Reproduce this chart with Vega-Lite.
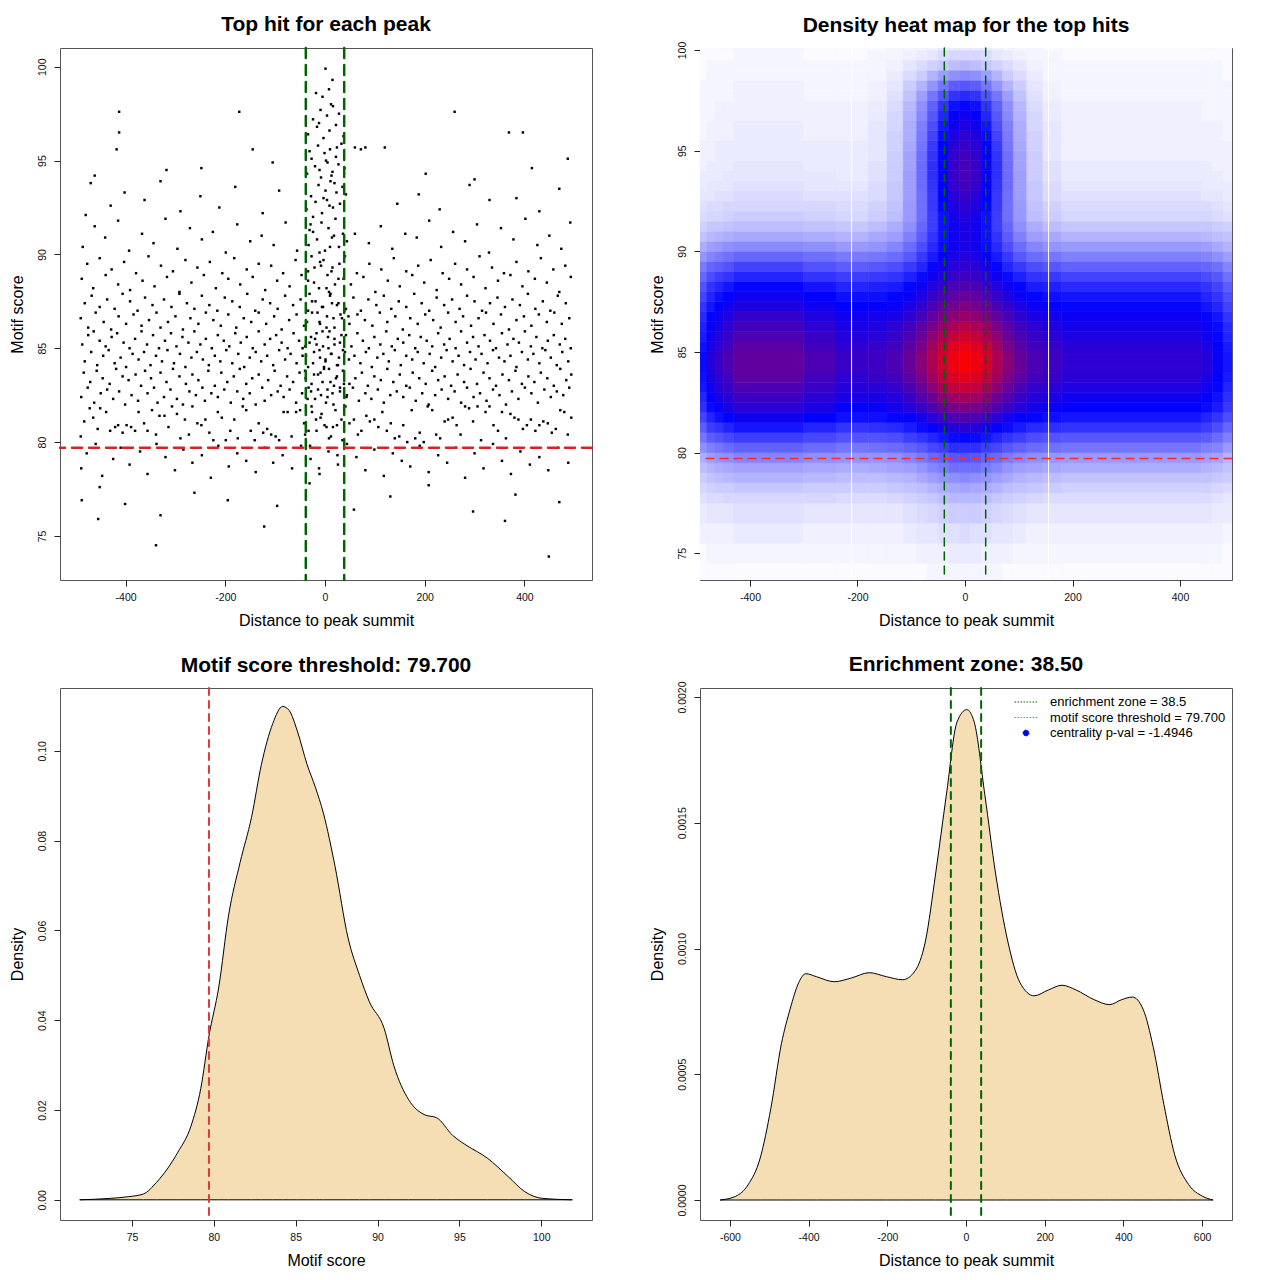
{
  "$schema": "https://vega.github.io/schema/vega-lite/v6.json",
  "background": "white",
  "padding": {"left": 8, "top": 13, "right": 0, "bottom": 0},
  "columns": 2,
  "spacing": 108,
  "bounds": "flush",
  "resolve": {"scale": {"x": "independent", "y": "independent", "color": "independent", "fill": "independent", "stroke": "independent", "shape": "independent"}},
  "config": {
    "font": "Liberation Sans",
    "locale": {"number": {"decimal": ".", "thousands": ",", "grouping": [3], "currency": ["$", ""], "minus": "-"}},
    "view": {"stroke": "#555", "strokeWidth": 1},
    "axis": {"domain": false, "grid": false, "tickColor": "#222", "tickSize": 6, "tickWidth": 1, "labelFontSize": 10.5, "labelColor": "#111", "titleFontSize": 16, "titleFontWeight": "normal", "titleColor": "#000", "labelFlush": false, "labelOverlap": false},
    "axisX": {"labelPadding": 6, "titlePadding": 10},
    "axisY": {"labelAngle": 270, "labelAlign": "center", "labelBaseline": "bottom", "labelPadding": 7, "titlePadding": 12},
    "title": {"fontSize": 21, "fontWeight": "bold", "color": "#000", "baseline": "alphabetic", "offset": 11.5, "frame": "group", "anchor": "middle"}
  },
  "concat": [
    {
      "width": 532,
      "height": 532,
      "title": {"text": "Top hit for each peak", "offset": 11.5},
      "layer": [
        {
          "data": {
            "values": "x,y\n-339,74.5\n449,73.9\n-122,75.5\n361,75.8\n-455,75.9\n-488,76.9\n-452,77.6\n-401,76.7\n-330,76.1\n-262,77.3\n-195,76.9\n-96,76.6\n-31,77.8\n58,76.4\n131,77.1\n208,77.7\n297,76.3\n382,77.2\n470,76.8\n-489,78.6\n-478,79.4\n-460,79.9\n-447,78.2\n-425,79.1\n-410,79.7\n-392,78.8\n-371,79.5\n-356,78.3\n-338,79.9\n-320,79.2\n-301,78.5\n-284,79.6\n-266,78.9\n-247,79.3\n-229,78.1\n-214,79.8\n-193,78.7\n-176,79.4\n-158,79.0\n-139,78.4\n-121,79.7\n-104,78.9\n-85,79.3\n-66,78.6\n-48,79.8\n-29,79.1\n-11,78.3\n7,79.5\n26,78.8\n44,79.9\n63,79.2\n81,78.5\n99,79.6\n118,78.2\n136,79.4\n154,79.0\n171,78.7\n190,79.8\n208,78.4\n227,79.3\n245,78.9\n263,79.7\n281,78.1\n300,79.4\n318,78.6\n337,79.9\n355,79.0\n373,78.3\n392,79.5\n411,78.8\n430,79.2\n448,78.5\n468,79.7\n488,78.9\n-490,80.3\n-483,81.1\n-472,81.8\n-465,81.3\n-456,80.7\n-451,81.8\n-439,81.6\n-431,80.6\n-421,80.8\n-415,80.9\n-406,80.5\n-398,80.9\n-389,80.8\n-381,80.6\n-374,81.6\n-363,81.0\n-356,80.6\n-347,81.7\n-339,80.4\n-332,81.4\n-322,81.4\n-314,80.8\n-307,81.9\n-297,81.5\n-290,80.2\n-281,81.2\n-273,80.4\n-266,81.9\n-256,81.0\n-248,80.9\n-240,81.2\n-232,80.5\n-224,80.1\n-215,81.6\n-207,81.3\n-199,80.1\n-190,80.6\n-182,81.2\n-175,80.2\n-165,81.9\n-158,81.7\n-149,80.6\n-141,80.1\n-133,81.0\n-124,80.5\n-116,80.7\n-108,80.4\n-99,80.3\n-92,80.1\n-83,81.6\n-75,81.6\n-67,80.3\n-58,81.6\n-50,81.7\n-42,81.0\n-33,80.6\n-26,81.6\n-17,80.6\n-9,81.3\n-1,80.9\n8,80.2\n16,80.8\n24,80.9\n33,81.2\n41,81.9\n49,81.0\n58,81.2\n66,80.4\n73,80.6\n83,81.4\n90,81.1\n99,81.2\n107,80.8\n115,81.6\n124,80.6\n132,81.0\n140,80.2\n149,80.3\n157,80.9\n165,80.0\n174,81.7\n181,80.2\n190,80.5\n198,80.0\n206,81.9\n215,81.7\n223,80.4\n231,80.2\n240,81.1\n247,81.2\n256,81.3\n264,80.9\n272,80.4\n281,81.9\n289,81.8\n297,81.1\n306,81.9\n313,80.1\n322,81.6\n330,81.9\n338,80.9\n347,80.6\n355,81.6\n363,80.2\n372,81.5\n380,81.3\n388,81.2\n397,80.7\n405,80.9\n413,81.2\n422,80.6\n430,80.9\n438,81.1\n447,81.0\n455,80.5\n463,80.7\n472,81.7\n480,81.6\n487,80.4\n494,81.3\n-489,82.4\n-484,83.7\n-476,82.9\n-471,83.2\n-463,82.1\n-458,83.8\n-450,82.6\n-446,83.4\n-437,82.8\n-432,83.1\n-425,82.3\n-419,83.9\n-413,82.7\n-406,83.5\n-401,82.0\n-394,83.3\n-388,82.5\n-380,83.6\n-375,82.2\n-369,83.0\n-361,83.8\n-356,82.6\n-349,83.4\n-343,82.9\n-336,82.1\n-330,83.7\n-323,82.4\n-318,83.2\n-310,82.8\n-305,83.9\n-297,82.3\n-292,83.5\n-285,82.0\n-279,83.1\n-272,82.7\n-266,83.6\n-259,82.5\n-254,83.3\n-246,82.9\n-241,82.2\n-234,83.8\n-228,82.6\n-221,83.0\n-215,82.4\n-208,83.7\n-202,82.8\n-196,83.2\n-189,82.1\n-183,83.5\n-176,82.7\n-171,83.9\n-164,82.3\n-158,83.1\n-151,82.6\n-146,83.4\n-139,82.0\n-133,83.6\n-126,82.9\n-121,82.2\n-114,83.3\n-108,82.5\n-101,83.8\n-95,82.7\n-89,83.0\n-83,82.4\n-76,83.5\n-71,82.8\n-64,83.2\n-58,82.1\n-51,83.7\n-46,82.6\n-39,83.4\n-33,82.9\n-27,83.1\n-20,82.3\n-14,83.6\n-8,82.5\n-2,83.9\n5,82.8\n11,83.2\n17,82.0\n24,83.5\n30,82.7\n36,83.8\n43,82.4\n49,83.1\n56,82.9\n61,83.4\n68,82.2\n74,83.7\n81,82.6\n86,83.0\n93,82.3\n99,83.5\n106,82.8\n112,83.3\n118,82.1\n125,83.9\n131,82.5\n137,83.2\n144,82.7\n150,83.6\n157,82.4\n163,83.0\n170,82.9\n176,83.7\n182,82.2\n189,83.4\n195,82.6\n202,83.1\n208,82.0\n215,83.8\n221,82.5\n227,83.3\n234,82.8\n240,83.5\n247,82.3\n253,83.0\n260,82.7\n266,83.6\n273,82.1\n279,83.2\n285,82.9\n292,83.9\n298,82.4\n305,83.1\n311,82.6\n318,83.7\n324,82.2\n330,83.4\n337,82.8\n343,83.0\n350,82.5\n356,83.6\n363,82.0\n369,83.3\n375,82.7\n382,83.8\n388,82.3\n395,83.1\n401,82.9\n408,83.5\n414,82.6\n420,83.2\n427,82.1\n433,83.7\n440,82.8\n446,83.4\n453,82.4\n459,83.0\n465,82.7\n472,83.9\n478,82.5\n484,83.3\n490,82.9\n494,83.6\n-487,85.2\n-482,84.3\n-475,85.7\n-469,84.8\n-464,85.9\n-457,84.1\n-452,85.4\n-445,84.6\n-440,85.1\n-434,84.9\n-428,85.6\n-422,84.2\n-417,85.8\n-410,84.5\n-404,85.3\n-399,84.0\n-392,85.0\n-386,84.7\n-381,85.5\n-374,84.4\n-368,85.9\n-363,84.8\n-357,85.2\n-350,84.1\n-345,85.7\n-339,84.6\n-333,85.0\n-327,84.3\n-321,85.4\n-316,84.9\n-309,85.8\n-303,84.2\n-298,85.1\n-291,84.7\n-286,85.6\n-280,84.0\n-274,85.3\n-268,84.5\n-262,85.9\n-257,84.8\n-250,85.2\n-245,84.4\n-239,85.5\n-233,84.1\n-227,85.0\n-221,84.6\n-215,85.7\n-210,84.3\n-203,85.4\n-198,84.9\n-192,85.1\n-186,84.2\n-180,85.8\n-174,84.7\n-169,85.3\n-162,84.0\n-157,85.6\n-151,84.5\n-145,85.0\n-139,84.8\n-133,85.9\n-128,84.3\n-121,85.2\n-116,84.6\n-110,85.5\n-104,84.1\n-98,85.7\n-92,84.9\n-87,85.3\n-80,84.4\n-75,85.0\n-69,84.7\n-63,85.8\n-57,84.2\n-52,85.4\n-45,84.6\n-40,85.1\n-34,84.0\n-28,85.6\n-22,84.8\n-17,85.2\n-10,84.5\n-5,85.9\n1,84.3\n7,85.0\n13,84.7\n19,85.5\n24,84.1\n30,85.3\n36,84.9\n42,85.7\n48,84.4\n53,85.1\n59,84.6\n65,85.8\n71,84.2\n76,85.4\n82,84.8\n88,85.0\n94,84.0\n99,85.6\n105,84.5\n111,85.2\n117,84.7\n123,85.9\n128,84.3\n134,85.1\n140,84.9\n146,85.5\n152,84.1\n157,85.3\n163,84.6\n169,85.7\n175,84.4\n181,85.0\n186,84.8\n192,85.6\n198,84.2\n204,85.4\n210,84.7\n215,85.1\n221,84.0\n227,85.8\n233,84.5\n239,85.2\n244,84.9\n250,85.5\n256,84.3\n262,85.0\n268,84.6\n273,85.9\n279,84.1\n285,85.3\n291,84.8\n297,85.6\n302,84.4\n308,85.1\n314,84.7\n320,85.7\n326,84.2\n331,85.4\n337,84.9\n343,85.0\n349,84.5\n355,85.8\n360,84.3\n366,85.2\n372,84.6\n378,85.5\n384,84.0\n389,85.3\n395,84.8\n401,85.9\n407,84.4\n413,85.1\n418,84.7\n424,85.6\n430,84.2\n436,85.0\n442,84.9\n447,85.4\n453,84.5\n459,85.7\n465,84.1\n471,85.2\n476,84.8\n482,85.5\n488,84.3\n493,85.0\n-490,86.6\n-482,87.4\n-475,86.1\n-468,87.8\n-460,86.9\n-452,87.2\n-444,86.4\n-437,87.6\n-429,86.0\n-422,87.1\n-414,86.7\n-406,87.9\n-399,86.3\n-391,87.5\n-384,86.8\n-376,87.0\n-368,86.2\n-361,87.7\n-353,86.5\n-346,87.3\n-338,86.9\n-330,86.1\n-323,87.6\n-315,86.4\n-308,87.2\n-300,86.7\n-292,87.9\n-285,86.0\n-277,87.4\n-270,86.6\n-262,87.1\n-254,86.3\n-247,87.8\n-239,86.9\n-232,87.3\n-224,86.5\n-216,87.0\n-209,86.2\n-201,87.7\n-194,86.8\n-186,87.5\n-178,86.1\n-171,87.2\n-163,86.6\n-156,87.9\n-148,86.4\n-140,87.0\n-133,86.9\n-125,87.6\n-118,86.3\n-110,87.4\n-102,86.7\n-95,87.1\n-87,86.0\n-80,87.8\n-72,86.5\n-64,87.3\n-57,86.8\n-49,87.6\n-42,86.2\n-34,87.0\n-26,86.9\n-19,87.5\n-11,86.4\n-4,87.2\n4,86.7\n11,87.9\n19,86.1\n27,87.4\n34,86.6\n42,87.1\n49,86.3\n57,87.7\n65,86.8\n72,87.0\n80,86.5\n87,87.6\n95,86.2\n103,87.3\n110,86.9\n118,87.8\n125,86.4\n133,87.1\n141,86.7\n148,87.5\n156,86.0\n163,87.2\n171,86.6\n179,87.9\n186,86.3\n194,87.4\n201,86.8\n209,87.0\n217,86.5\n224,87.7\n232,86.1\n239,87.3\n247,86.9\n255,87.6\n262,86.4\n270,87.1\n277,86.7\n285,87.8\n293,86.2\n300,87.5\n308,86.6\n315,87.0\n323,86.9\n331,87.4\n338,86.3\n346,87.7\n353,86.8\n361,87.2\n369,86.0\n376,87.6\n384,86.5\n391,87.3\n399,86.7\n407,87.9\n414,86.2\n422,87.1\n429,86.8\n437,87.5\n445,86.4\n452,87.0\n460,86.9\n467,87.8\n475,86.3\n483,87.4\n490,86.6\n-488,88.7\n-477,89.5\n-465,88.2\n-452,89.8\n-440,88.9\n-428,89.2\n-415,88.4\n-403,89.6\n-391,88.1\n-379,89.0\n-366,88.6\n-354,89.9\n-342,88.3\n-329,89.4\n-317,88.8\n-305,89.1\n-292,88.0\n-280,89.7\n-268,88.5\n-256,89.3\n-243,88.9\n-231,89.6\n-219,88.2\n-206,89.0\n-194,88.7\n-182,89.8\n-170,88.4\n-157,89.2\n-145,88.8\n-133,89.5\n-120,88.1\n-108,89.4\n-96,88.6\n-84,89.0\n-71,88.3\n-59,89.7\n-47,88.9\n-34,89.1\n-22,88.5\n-10,89.6\n3,88.2\n15,89.3\n27,88.7\n40,89.9\n52,88.4\n64,89.0\n77,88.8\n89,89.5\n101,88.0\n113,89.2\n126,88.6\n138,89.8\n150,88.3\n163,89.1\n175,88.9\n187,89.4\n199,88.5\n212,89.7\n224,88.1\n236,89.0\n249,88.7\n261,89.5\n273,88.4\n285,89.2\n298,88.8\n310,89.9\n322,88.2\n335,89.3\n347,88.6\n359,89.0\n372,88.9\n384,89.6\n396,88.3\n408,89.1\n421,88.7\n433,89.8\n445,88.5\n458,89.2\n470,88.0\n482,89.4\n493,88.8\n-486,90.4\n-462,91.5\n-441,90.9\n-415,91.8\n-393,90.2\n-367,91.1\n-344,90.6\n-320,91.9\n-296,90.3\n-271,91.4\n-247,90.8\n-225,91.2\n-199,90.1\n-176,91.6\n-150,90.7\n-127,91.0\n-103,90.5\n-79,91.7\n-56,90.2\n-31,91.3\n88,90.6\n112,91.5\n135,90.3\n161,91.1\n184,90.9\n209,91.8\n233,90.4\n257,91.2\n281,90.7\n305,91.6\n329,90.1\n353,91.4\n378,90.8\n402,91.9\n426,90.5\n450,91.0\n474,90.3\n492,91.7\n10,90.4\n60,91.1\n-480,92.1\n-470,93.8\n-430,92.6\n-402,93.3\n-362,92.9\n-330,93.9\n-290,92.3\n-250,93.1\n-212,92.5\n-180,93.6\n-125,92.2\n-92,93.4\n145,92.7\n188,93.2\n230,92.4\n290,93.7\n330,92.9\n384,93.0\n430,92.3\n470,93.5\n-462,94.2\n-418,95.6\n-318,94.5\n-248,94.6\n-145,95.6\n-105,94.9\n120,95.7\n202,94.3\n300,94.0\n415,94.6\n487,95.1\n-413,97.6\n-413,96.5\n-172,97.6\n260,97.6\n369,96.5\n397,96.5\n60,95.7\n72,95.6\n81,95.7\n-12,78.6\n25,79.3\n-30,79.8\n-40,80.4\n-18,81.2\n3,80.8\n21,81.7\n35,80.1\n-7,81.5\n12,80.3\n-27,81.9\n-35,82.3\n-22,83.6\n-14,82.8\n-5,83.2\n2,82.1\n8,83.9\n15,82.6\n22,83.4\n30,82.9\n38,83.1\n-28,82.7\n-9,83.7\n5,82.4\n18,83.0\n-40,83.8\n44,82.5\n-38,84.6\n-31,85.3\n-24,84.2\n-17,85.8\n-11,84.9\n-4,85.1\n1,84.4\n6,85.6\n12,84.7\n19,85.2\n26,84.1\n33,85.7\n40,84.8\n-20,85.5\n-2,84.0\n9,85.9\n28,84.5\n-45,85.0\n-36,86.4\n-26,87.5\n-15,86.9\n-6,87.2\n3,86.1\n10,87.8\n17,86.6\n24,87.3\n31,86.8\n39,87.0\n-31,87.9\n-10,86.3\n14,87.4\n47,86.7\n-34,88.6\n-21,89.3\n-12,88.2\n-3,89.7\n5,88.9\n13,89.1\n20,88.4\n29,89.5\n37,88.7\n-27,89.9\n8,88.0\n-8,89.4\n-33,90.5\n-24,91.2\n-16,90.8\n-7,91.7\n0,90.2\n7,91.4\n14,90.9\n21,91.9\n28,90.4\n36,91.1\n-29,91.6\n-11,90.1\n18,91.0\n44,90.7\n-37,92.4\n-28,93.1\n-19,92.8\n-13,93.7\n-6,92.2\n1,93.4\n4,92.9\n11,93.9\n16,92.5\n23,93.3\n30,92.7\n35,93.6\n-24,92.0\n-3,93.0\n9,92.6\n19,93.8\n42,93.2\n-36,94.3\n-27,95.1\n-20,94.7\n-14,95.8\n-8,94.1\n-1,95.4\n5,94.9\n10,95.6\n15,94.4\n22,95.2\n27,94.8\n33,95.9\n39,94.6\n-31,95.5\n-11,94.5\n2,95.0\n13,94.2\n24,95.7\n-34,96.4\n-24,97.2\n-16,96.8\n-9,97.7\n-3,96.2\n4,97.4\n9,96.6\n16,97.9\n22,96.9\n28,97.5\n37,96.3\n-12,97.0\n12,98.0\n-5,98.4\n8,98.8\n-18,98.6\n15,99.3\n1,99.9",
            "format": {"type": "csv", "parse": {"x": "number", "y": "number"}}
          },
          "mark": {"type": "square", "size": 6, "color": "#000", "opacity": 1, "clip": true},
          "encoding": {
            "x": {"field": "x", "type": "quantitative", "title": "Distance to peak summit", "scale": {"domain": [-531.6, 535.6], "nice": false, "zero": false}, "axis": {"values": [-400, -200, 0, 200, 400]}},
            "y": {"field": "y", "type": "quantitative", "title": "Motif score", "scale": {"domain": [72.65, 101.0], "nice": false, "zero": false}, "axis": {"values": [75, 80, 85, 90, 95, 100]}}
          }
        },
        {
          "data": {"values": [{"x": -38.5}, {"x": 38.5}]},
          "mark": {"type": "rule", "color": "#006400", "strokeWidth": 2.5, "strokeDash": [10, 7], "strokeCap": "round"},
          "encoding": {"x": {"field": "x", "type": "quantitative", "title": "Distance to peak summit"}}
        },
        {
          "data": {"values": [{"y": 79.7}]},
          "mark": {"type": "rule", "color": "#d62424", "strokeWidth": 2.5, "strokeDash": [10, 7], "strokeCap": "round"},
          "encoding": {"y": {"field": "y", "type": "quantitative", "title": "Motif score"}}
        }
      ]
    },
    {
      "width": 532,
      "height": 532,
      "title": {"text": "Density heat map for the top hits", "offset": 5.5},
      "layer": [
        {
          "data": {
            "values": "y1,y2,a,b,c,d,e,f,g,h,i,j,k,l,m,n,o,p,q,r,s,t,u,v,w,x,y,z\n73.5,74.5,1,1,1,1,1,1,1,1,1,1,1,2,2,2,2,2,2,2,1,1,1,1,1,1,1,1\n74.5,75.5,1,2,2,2,2,2,2,2,2,2,3,3,3,4,4,4,3,3,3,2,2,2,2,2,2,1\n75.5,76.5,3,3,3,3,4,3,3,3,3,4,5,5,6,6,7,6,6,5,5,4,3,3,3,3,3,2\n76.5,77.5,4,5,5,5,6,5,5,5,5,6,7,8,9,10,10,10,9,8,7,6,5,5,5,5,4,4\n77.5,78,6,7,7,8,8,8,7,7,8,9,10,11,13,14,14,14,13,11,10,9,8,7,7,7,6,5\n78,78.5,8,9,10,10,11,10,10,10,11,12,13,15,16,17,18,17,16,15,13,12,11,10,9,9,8,7\n78.5,79,10,12,13,14,15,14,13,13,14,15,17,19,21,22,23,22,21,19,17,15,14,13,12,12,11,10\n79,79.5,13,15,16,17,18,17,16,17,18,19,21,24,26,28,28,28,26,24,21,19,18,17,16,15,14,12\n79.5,80,16,19,21,22,24,22,21,21,22,24,26,29,31,33,34,33,31,29,26,24,22,21,20,19,18,15\n80,80.5,22,25,27,29,31,29,27,28,29,31,33,36,38,41,41,41,38,36,33,31,29,28,27,25,24,20\n80.5,81,27,32,34,36,38,36,34,34,35,38,40,43,46,48,49,48,46,43,40,38,35,34,33,32,29,25\n81,81.5,32,38,40,43,46,43,40,41,42,45,48,51,54,57,58,57,54,51,48,45,42,41,40,38,35,30\n81.5,82,37,43,47,50,53,50,47,47,49,51,54,58,62,65,66,65,62,58,54,51,49,47,46,43,40,35\n82,82.5,41,48,51,55,58,55,51,52,54,57,61,65,70,73,74,73,70,65,61,57,54,52,50,48,45,39\n82.5,83,43,51,55,58,62,58,55,55,57,61,66,71,77,81,82,81,77,71,66,61,57,55,53,51,47,41\n83,83.5,46,53,57,61,65,61,57,58,60,65,70,77,83,88,89,88,83,77,70,65,60,58,56,53,49,43\n83.5,84,47,55,59,63,68,63,59,61,63,68,74,81,88,93,95,93,88,81,74,68,63,61,58,55,51,45\n84,84.5,48,57,61,65,69,65,61,62,65,70,77,84,91,97,99,97,91,84,77,70,65,62,59,57,52,46\n84.5,85,48,57,61,65,69,65,61,62,65,70,77,84,91,97,99,97,91,84,77,70,65,62,59,57,52,46\n85,85.5,47,55,59,63,68,63,59,61,63,68,74,82,89,94,96,94,89,82,74,68,63,61,58,55,51,45\n85.5,86,45,53,57,61,65,61,57,58,61,65,71,78,84,89,91,89,84,78,71,65,61,58,56,53,49,43\n86,86.5,44,52,55,59,63,59,55,56,59,63,68,74,80,84,86,84,80,74,68,63,59,56,54,52,48,42\n86.5,87,42,49,53,56,60,56,53,54,55,59,64,69,74,78,80,78,74,69,64,59,55,54,52,49,46,40\n87,87.5,40,46,50,53,56,53,50,51,52,56,60,65,70,73,75,73,70,65,60,56,52,51,49,46,43,37\n87.5,88,37,43,47,50,53,50,47,47,49,52,56,61,65,69,70,69,65,61,56,52,49,47,46,43,40,35\n88,88.5,34,40,43,46,49,46,43,44,45,49,53,57,61,65,66,65,61,57,53,49,45,44,42,40,37,32\n88.5,89,30,35,38,40,43,40,38,39,40,44,48,53,57,61,62,61,57,53,48,44,40,39,37,35,33,28\n89,89.5,26,30,32,34,37,34,32,33,35,39,43,49,54,58,59,58,54,49,43,39,35,33,31,30,28,24\n89.5,90,21,24,26,28,30,28,26,27,29,33,39,45,51,55,57,55,51,45,39,33,29,27,25,24,22,19\n90,90.5,16,19,20,22,23,22,20,21,24,29,35,42,48,53,55,53,48,42,35,29,24,21,20,19,17,15\n90.5,91,12,14,15,16,17,16,15,17,19,25,32,40,47,53,55,53,47,40,32,25,19,17,15,14,13,12\n91,91.5,9,11,11,12,13,12,11,13,16,22,30,38,47,53,55,53,47,38,30,22,16,13,11,11,10,9\n91.5,92,7,8,8,9,10,9,8,10,13,20,28,38,47,54,57,54,47,38,28,20,13,10,8,8,7,6\n92,92.5,6,7,7,8,8,8,7,9,12,20,28,39,49,56,59,56,49,39,28,20,12,9,7,7,6,5\n92.5,93,5,5,6,6,7,6,6,7,11,19,28,39,50,58,61,58,50,39,28,19,11,7,6,5,5,4\n93,93.5,4,5,5,5,6,5,5,7,11,19,29,40,51,60,63,60,51,40,29,19,11,7,5,4,4,4\n93.5,94,4,4,4,5,5,5,4,6,10,19,29,41,52,61,64,61,52,41,29,19,10,6,4,4,4,3\n94,94.5,3,4,4,4,5,4,4,6,10,18,29,41,52,61,64,61,52,41,29,18,10,6,4,4,3,3\n94.5,95,3,3,4,4,4,4,4,5,10,18,28,40,51,60,63,60,51,40,28,18,10,5,3,3,3,3\n95,95.5,3,3,4,4,4,4,4,5,9,17,27,39,50,58,61,58,50,39,27,17,9,5,3,3,3,3\n95.5,96,2,3,3,3,4,3,3,5,9,16,26,37,48,56,59,56,48,37,26,16,9,5,3,3,3,2\n96,96.5,2,3,3,3,4,3,3,5,8,16,25,35,46,53,56,53,46,35,25,16,8,5,3,3,3,2\n96.5,97,2,2,3,3,3,3,3,4,8,15,23,33,43,51,53,51,43,33,23,15,8,4,3,2,2,2\n97,97.5,2,2,3,3,3,3,3,4,7,14,22,31,40,47,49,47,40,31,22,14,7,4,3,2,2,2\n97.5,98,2,2,2,2,3,2,2,3,6,12,19,27,34,40,42,40,34,27,19,12,6,3,2,2,2,2\n98,98.5,2,2,2,2,3,2,2,3,5,10,15,21,27,32,33,32,27,21,15,10,5,3,2,2,2,2\n98.5,99,1,2,2,2,2,2,2,2,4,7,10,15,19,22,23,22,19,15,10,7,4,2,2,2,2,1\n99,99.5,1,2,2,2,2,2,2,2,3,5,7,9,11,13,14,13,11,9,7,5,3,2,2,2,2,1\n99.5,100,1,1,1,1,2,1,1,2,2,3,4,5,7,8,8,8,7,5,4,3,2,2,1,1,1,1\n100,100.5,1,1,1,1,2,1,1,1,2,2,2,3,4,4,4,4,4,3,2,2,2,1,1,1,1,1",
            "format": {"type": "csv", "parse": {"y1": "number", "y2": "number", "a": "number", "b": "number", "c": "number", "d": "number", "e": "number", "f": "number", "g": "number", "h": "number", "i": "number", "j": "number", "k": "number", "l": "number", "m": "number", "n": "number", "o": "number", "p": "number", "q": "number", "r": "number", "s": "number", "t": "number", "u": "number", "v": "number", "w": "number", "x": "number", "y": "number", "z": "number"}}
          },
          "transform": [
            {"fold": ["a", "b", "c", "d", "e", "f", "g", "h", "i", "j", "k", "l", "m", "n", "o", "p", "q", "r", "s", "t", "u", "v", "w", "x", "y", "z"], "as": ["col", "val"]},
            {"lookup": "col", "from": {"data": {"values": [
              {"col": "a", "x1": -500, "x2": -480}, {"col": "b", "x1": -480, "x2": -465}, {"col": "c", "x1": -465, "x2": -450},
              {"col": "d", "x1": -450, "x2": -430}, {"col": "e", "x1": -430, "x2": -300}, {"col": "f", "x1": -300, "x2": -240},
              {"col": "g", "x1": -240, "x2": -180}, {"col": "h", "x1": -180, "x2": -145}, {"col": "i", "x1": -145, "x2": -115},
              {"col": "j", "x1": -115, "x2": -90}, {"col": "k", "x1": -90, "x2": -70}, {"col": "l", "x1": -70, "x2": -50},
              {"col": "m", "x1": -50, "x2": -30}, {"col": "n", "x1": -30, "x2": -10}, {"col": "o", "x1": -10, "x2": 10},
              {"col": "p", "x1": 10, "x2": 30}, {"col": "q", "x1": 30, "x2": 50}, {"col": "r", "x1": 50, "x2": 70},
              {"col": "s", "x1": 70, "x2": 90}, {"col": "t", "x1": 90, "x2": 115}, {"col": "u", "x1": 115, "x2": 145},
              {"col": "v", "x1": 145, "x2": 180}, {"col": "w", "x1": 180, "x2": 440}, {"col": "x", "x1": 440, "x2": 460},
              {"col": "y", "x1": 460, "x2": 480}, {"col": "z", "x1": 480, "x2": 500}
            ]}, "key": "col", "fields": ["x1", "x2"]}}
          ],
          "mark": {"type": "rect", "clip": true, "strokeWidth": 0.6},
          "encoding": {
            "x": {"field": "x1", "type": "quantitative", "title": "Distance to peak summit", "scale": {"domain": [-493, 496.7], "nice": false, "zero": false}, "axis": {"values": [-400, -200, 0, 200, 400]}},
            "x2": {"field": "x2"},
            "y": {"field": "y1", "type": "quantitative", "title": "Motif score", "scale": {"domain": [73.67, 100.1], "nice": false, "zero": false}, "axis": {"values": [75, 80, 85, 90, 95, 100]}},
            "y2": {"field": "y2"},
            "color": {"field": "val", "type": "quantitative", "scale": {"domain": [0, 50, 100], "range": ["#ffffff", "#0000ff", "#ff0000"], "interpolate": "rgb"}, "legend": null},
            "stroke": {"field": "val", "type": "quantitative", "scale": {"domain": [0, 50, 100], "range": ["#ffffff", "#0000ff", "#ff0000"], "interpolate": "rgb"}, "legend": null}
          }
        },
        {
          "data": {"values": [{"x1": -211}, {"x1": 155.5}]},
          "mark": {"type": "rule", "color": "#ffffff", "strokeWidth": 1},
          "encoding": {"x": {"field": "x1", "type": "quantitative", "title": "Distance to peak summit"}}
        },
        {
          "data": {"values": [{"x1": -38.5}, {"x1": 38.5}]},
          "mark": {"type": "rule", "color": "#006400", "strokeWidth": 1.5, "strokeDash": [8, 6], "strokeCap": "round"},
          "encoding": {"x": {"field": "x1", "type": "quantitative", "title": "Distance to peak summit"}}
        },
        {
          "data": {"values": [{"y1": 79.7}]},
          "mark": {"type": "rule", "color": "#ff2a2a", "strokeWidth": 1.5, "strokeDash": [8, 6], "strokeCap": "round"},
          "encoding": {"y": {"field": "y1", "type": "quantitative", "title": "Motif score"}}
        }
      ]
    },
    {
      "width": 532,
      "height": 532,
      "title": {"text": "Motif score threshold: 79.700", "offset": 11.5},
      "layer": [
        {
          "data": {"values": [
            {"x": 71.8, "d": 0}, {"x": 73.6, "d": 0.0003}, {"x": 74.8, "d": 0.0007}, {"x": 75.7, "d": 0.0013},
            {"x": 76.5, "d": 0.0039}, {"x": 77.8, "d": 0.0106}, {"x": 78.6, "d": 0.0164}, {"x": 79.2, "d": 0.0248},
            {"x": 79.7, "d": 0.0365}, {"x": 80.3, "d": 0.0474}, {"x": 80.9, "d": 0.0634}, {"x": 81.6, "d": 0.0751},
            {"x": 82.3, "d": 0.0852}, {"x": 82.9, "d": 0.0969}, {"x": 83.6, "d": 0.1061}, {"x": 84.2, "d": 0.1099},
            {"x": 84.6, "d": 0.109}, {"x": 85.1, "d": 0.1044}, {"x": 85.7, "d": 0.0969}, {"x": 86.2, "d": 0.0919},
            {"x": 86.7, "d": 0.086}, {"x": 87.4, "d": 0.0743}, {"x": 88.2, "d": 0.0583}, {"x": 88.9, "d": 0.05},
            {"x": 89.5, "d": 0.0441}, {"x": 90.4, "d": 0.0382}, {"x": 91.0, "d": 0.0298}, {"x": 91.9, "d": 0.0223},
            {"x": 92.9, "d": 0.0189}, {"x": 93.6, "d": 0.0183}, {"x": 94.6, "d": 0.0143}, {"x": 95.4, "d": 0.0122},
            {"x": 96.7, "d": 0.0093}, {"x": 98.0, "d": 0.0051}, {"x": 99.0, "d": 0.0018}, {"x": 100.1, "d": 0.0003},
            {"x": 101.9, "d": 0}
          ]},
          "mark": {"type": "area", "fill": "#F5DEB3", "stroke": "#000", "strokeWidth": 1, "interpolate": "monotone"},
          "encoding": {
            "x": {"field": "x", "type": "quantitative", "title": "Motif score", "scale": {"domain": [70.6, 103.1], "nice": false, "zero": false}, "axis": {"values": [75, 80, 85, 90, 95, 100]}},
            "y": {"field": "d", "type": "quantitative", "title": "Density", "scale": {"domain": [-0.0045, 0.114], "nice": false, "zero": false}, "axis": {"values": [0, 0.02, 0.04, 0.06, 0.08, 0.1], "format": ".2f"}},
            "y2": {"datum": 0}
          }
        },
        {
          "data": {"values": [{"x": 79.7}]},
          "mark": {"type": "rule", "color": "#d93a3a", "strokeWidth": 2, "strokeDash": [7, 6], "strokeCap": "round"},
          "encoding": {"x": {"field": "x", "type": "quantitative", "title": "Motif score"}}
        }
      ]
    },
    {
      "width": 532,
      "height": 532,
      "title": {"text": "Enrichment zone: 38.50", "offset": 5.5},
      "layer": [
        {
          "data": {"values": [
            {"x": -625, "d": 0}, {"x": -585, "d": 0.000015}, {"x": -554, "d": 0.00006}, {"x": -523, "d": 0.000167},
            {"x": -496, "d": 0.000364}, {"x": -469, "d": 0.000622}, {"x": -447, "d": 0.000759}, {"x": -425, "d": 0.000865},
            {"x": -407, "d": 0.0009}, {"x": -380, "d": 0.000888}, {"x": -335, "d": 0.000868}, {"x": -291, "d": 0.000883},
            {"x": -246, "d": 0.000904}, {"x": -202, "d": 0.000888}, {"x": -161, "d": 0.000876}, {"x": -130, "d": 0.00091},
            {"x": -103, "d": 0.00103}, {"x": -77, "d": 0.0013}, {"x": -50, "d": 0.00161}, {"x": -23, "d": 0.0019},
            {"x": 2, "d": 0.00195}, {"x": 21, "d": 0.0019}, {"x": 48, "d": 0.00161}, {"x": 75, "d": 0.0013},
            {"x": 106, "d": 0.00103}, {"x": 137, "d": 0.000865}, {"x": 173, "d": 0.000812}, {"x": 209, "d": 0.000835},
            {"x": 244, "d": 0.000854}, {"x": 280, "d": 0.000835}, {"x": 325, "d": 0.000797}, {"x": 365, "d": 0.000777},
            {"x": 396, "d": 0.000797}, {"x": 423, "d": 0.000807}, {"x": 450, "d": 0.000759}, {"x": 476, "d": 0.000607},
            {"x": 503, "d": 0.000379}, {"x": 530, "d": 0.000182}, {"x": 566, "d": 0.000061}, {"x": 601, "d": 0.000015},
            {"x": 628, "d": 0}
          ]},
          "mark": {"type": "area", "fill": "#F5DEB3", "stroke": "#000", "strokeWidth": 1, "interpolate": "monotone"},
          "encoding": {
            "x": {"field": "x", "type": "quantitative", "title": "Distance to peak summit", "scale": {"domain": [-676, 676], "nice": false, "zero": false}, "axis": {"values": [-600, -400, -200, 0, 200, 400, 600]}},
            "y": {"field": "d", "type": "quantitative", "title": "Density", "scale": {"domain": [-0.0000795, 0.002036], "nice": false, "zero": false}, "axis": {"values": [0, 0.0005, 0.001, 0.0015, 0.002], "format": ".4f"}},
            "y2": {"datum": 0}
          }
        },
        {
          "data": {"values": [{"x": -38.5}, {"x": 38.5}]},
          "mark": {"type": "rule", "color": "#006400", "strokeWidth": 2, "strokeDash": [7, 6], "strokeCap": "round"},
          "encoding": {"x": {"field": "x", "type": "quantitative", "title": "Distance to peak summit"}}
        },
        {
          "data": {"values": [
            {"lab": "enrichment zone = 38.5"},
            {"lab": "motif score threshold = 79.700"},
            {"lab": "centrality p-val = -1.4946"}
          ]},
          "mark": {"type": "point", "filled": true, "opacity": 1},
          "encoding": {
            "x": {"field": "x", "type": "quantitative", "title": "Distance to peak summit"},
            "y": {"field": "d", "type": "quantitative", "title": "Density"},
            "fill": {"field": "lab", "type": "nominal", "scale": {"domain": ["enrichment zone = 38.5", "motif score threshold = 79.700", "centrality p-val = -1.4946"], "range": ["#006400", "#ff5a5a", "#0000ff"]},
              "legend": {"title": null, "orient": "top-right", "offset": 6, "padding": 0, "labelFontSize": 13, "labelColor": "#000", "labelOffset": 16, "labelLimit": 400, "symbolSize": 225, "symbolStrokeWidth": 1, "symbolDash": [1.5, 1.5], "rowPadding": 0.5}},
            "stroke": {"field": "lab", "type": "nominal", "scale": {"domain": ["enrichment zone = 38.5", "motif score threshold = 79.700", "centrality p-val = -1.4946"], "range": ["#006400", "#ff5a5a", "#0000ff"]},
              "legend": {"title": null, "orient": "top-right", "offset": 6, "padding": 0, "labelFontSize": 13, "labelColor": "#000", "labelOffset": 16, "labelLimit": 400, "symbolSize": 225, "symbolStrokeWidth": 1, "symbolDash": [1.5, 1.5], "rowPadding": 0.5}},
            "shape": {"field": "lab", "type": "nominal", "scale": {"domain": ["enrichment zone = 38.5", "motif score threshold = 79.700", "centrality p-val = -1.4946"], "range": ["M-1.53,0L1.53,0", "M-1.53,0L1.53,0", "M-0.4,0A0.4,0.4,0,1,1,0.4,0A0.4,0.4,0,1,1,-0.4,0Z"]},
              "legend": {"title": null, "orient": "top-right", "offset": 6, "padding": 0, "labelFontSize": 13, "labelColor": "#000", "labelOffset": 16, "labelLimit": 400, "symbolSize": 225, "symbolStrokeWidth": 1, "symbolDash": [1.5, 1.5], "rowPadding": 0.5}}
          }
        }
      ]
    }
  ]
}
